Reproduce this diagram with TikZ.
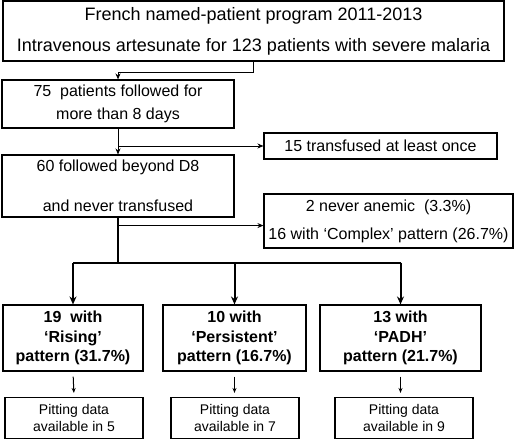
\documentclass[tikz,border=0pt]{standalone}
\usepackage{fontspec}
\setmainfont{Liberation Sans}
\usetikzlibrary{arrows.meta,calc}
\begin{document}
\begin{tikzpicture}[x=1pt,y=-1pt,
  box/.style={draw=black,line width=1.1pt,align=center,inner sep=0pt,anchor=center},
  txt/.style={font=\fontsize{16}{19}\selectfont},
  arr/.style={line width=1pt,-{Stealth[length=6pt,width=5pt]}},
  thickarr/.style={line width=2pt,-{Stealth[length=8pt,width=7pt]}},
  thinarr/.style={line width=1pt,-{Stealth[length=5pt,width=4pt]}}]
\useasboundingbox (0,0) rectangle (520,439);
\node[box,minimum width=501pt,minimum height=60pt,font=\fontsize{18}{31}\selectfont] (b1) at (253.5,31)
  {French named-patient program 2011-2013\\Intravenous artesunate for 123 patients with severe malaria};
\node[box,txt,minimum width=232pt,minimum height=48pt,font=\fontsize{16}{23}\selectfont] (b2) at (118,104)
  {75\ \ patients followed for\\more than 8 days};
\node[box,txt,minimum width=233pt,minimum height=26pt] (b15) at (380.5,146)
  {15 transfused at least once};
\node[box,minimum width=232pt,minimum height=62pt,font=\fontsize{16}{40}\selectfont] (b3) at (118,186)
  {60 followed beyond D8\\and never transfused};
\node[box,minimum width=249pt,minimum height=54pt,font=\fontsize{16}{28}\selectfont] (bn) at (388.5,221)
  {2 never anemic\ \ (3.3\%)\\16 with ‘Complex’ pattern (26.7\%)};
\node[box,minimum width=140pt,minimum height=66pt,font=\bfseries\fontsize{16}{19.5}\selectfont] (b4) at (73,338)
  {19\ \ with\\‘Rising’\\pattern (31.7\%)};
\node[box,minimum width=143pt,minimum height=66pt,font=\bfseries\fontsize{16}{19.5}\selectfont] (b5) at (234.5,338)
  {10 with\\‘Persistent’\\pattern (16.7\%)};
\node[box,minimum width=161pt,minimum height=66pt,font=\bfseries\fontsize{16}{19.5}\selectfont] (b6) at (400.5,338)
  {13 with\\‘PADH’\\pattern (21.7\%)};
\node[box,minimum width=138pt,minimum height=41pt,font=\fontsize{14}{17}\selectfont] (b7) at (74,418)
  {Pitting data\\available in 5};
\node[box,minimum width=128pt,minimum height=41pt,font=\fontsize{14}{17}\selectfont] (b8) at (235,418)
  {Pitting data\\available in 7};
\node[box,minimum width=138pt,minimum height=41pt,font=\fontsize{14}{17}\selectfont] (b9) at (404,418)
  {Pitting data\\available in 9};
% connectors
\draw[arr] (b1.south) -- ++(0,11) -| (b2.north);
\draw[arr] (b2.south) -- (b3.north);
\draw[arr] (b2.south |- b15.west) -- (b15.west);
\coordinate (j1) at ($(b3.south)+(0,8)$);
\draw[arr] (j1) -- (j1 -| bn.west);
\coordinate (bar) at ($(b3.south)+(0,45)$);
\draw[line width=2pt] (b3.south) -- (bar);
\draw[line width=2pt] (bar -| b4.north) -- (bar -| b6.north);
\draw[thickarr] (bar -| b4.north) -- (b4.north);
\draw[thickarr] (bar -| b5.north) -- (b5.north);
\draw[thickarr] (bar -| b6.north) -- (b6.north);
\draw[thinarr,shorten <=5pt,shorten >=4pt] (b4.south) -- (b7.north);
\draw[thinarr,shorten <=5pt,shorten >=4pt] (b5.south) -- (b5.south |- b8.north);
\draw[thinarr,shorten <=5pt,shorten >=4pt] (b6.south) -- (b6.south |- b9.north);
\end{tikzpicture}
\end{document}
